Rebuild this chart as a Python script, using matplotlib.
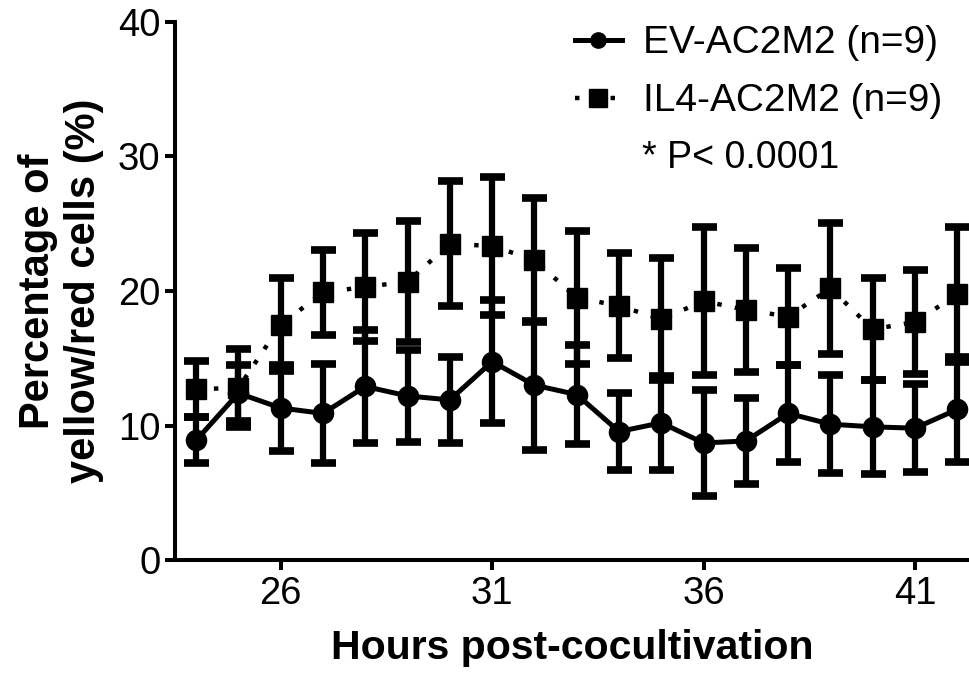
import matplotlib
matplotlib.use("Agg")
import matplotlib.pyplot as plt

plt.rcParams["font.family"] = ["Liberation Sans", "DejaVu Sans"]

# Time points (hours after co-cultivation start)
hours = [24, 25, 26, 27, 28, 29, 30, 31, 32, 33, 34, 35, 36, 37, 38, 39, 40, 41, 42]

# EV-AC2M2: mean and SEM of yellow/red cell percentage
ev_mean = [8.9, 12.4, 11.3, 10.9, 12.9, 12.2, 11.9, 14.75, 13.0, 12.3,
           9.55, 10.2, 8.7, 8.85, 10.9, 10.1, 9.9, 9.8, 11.2]
ev_sem = [1.7, 2.1, 3.2, 3.7, 4.2, 3.4, 3.2, 4.6, 4.8, 3.7,
          2.85, 3.5, 3.95, 3.2, 3.6, 3.65, 3.5, 3.25, 3.9]

# IL4-AC2M2: mean and SEM
il4_mean = [12.7, 12.8, 17.5, 19.9, 20.3, 20.7, 23.5, 23.35, 22.3, 19.5,
            18.9, 17.9, 19.25, 18.6, 18.1, 20.2, 17.15, 17.7, 19.75]
il4_sem = [2.1, 2.9, 3.45, 3.15, 4.0, 4.5, 4.65, 5.15, 4.6, 4.95,
           3.9, 4.55, 5.5, 4.6, 3.6, 4.85, 3.8, 3.85, 5.0]

x_ticks = [26, 31, 36, 41]
y_ticks = [0, 10, 20, 30, 40]

ev_label = "EV-AC2M2 (n=9)"
il4_label = "IL4-AC2M2 (n=9)"
p_text = "* P< 0.0001"

fig = plt.figure(figsize=(9.7, 6.77), dpi=100)
ax = fig.add_axes([175 / 970, 117 / 677, 795 / 970, 538 / 677])

err_kw = dict(fmt="none", ecolor="black", elinewidth=4.5, capsize=9,
              capthick=5.5, clip_on=False)
ax.errorbar(hours, il4_mean, yerr=il4_sem, **err_kw)
ax.errorbar(hours, ev_mean, yerr=ev_sem, **err_kw)

ax.plot(hours, il4_mean, color="black", linestyle=(0, (1, 3)), linewidth=3.2,
        marker="s", markersize=14, label=il4_label, clip_on=False, zorder=3)
ax.plot(hours, ev_mean, color="black", linestyle="-", linewidth=3.6,
        marker="o", markersize=14.5, label=ev_label, clip_on=False, zorder=3)

ax.set_xlim(23.5, 42.3)
ax.set_ylim(0, 40)
ax.set_xticks(x_ticks)
ax.set_yticks(y_ticks)

for side in ("top", "right"):
    ax.spines[side].set_visible(False)
for side in ("left", "bottom"):
    ax.spines[side].set_linewidth(2.9)

ax.tick_params(axis="both", which="major", direction="out", length=7.5,
               width=2.9, labelsize=27.5, color="black", labelcolor="black")
ax.tick_params(axis="x", pad=4)
ax.tick_params(axis="y", pad=3)

ax.set_xlabel("Hours post-cocultivation", fontsize=29.5, fontweight="bold",
              labelpad=12)
ax.set_ylabel("Percentage of\nyellow/red cells (%)", fontsize=30,
              fontweight="bold", linespacing=1.2, labelpad=10)

handles, labels = ax.get_legend_handles_labels()
order = [1, 0]
leg = ax.legend([handles[i] for i in order], [labels[i] for i in order],
                loc="upper left", bbox_to_anchor=(400 / 795, 0.994),
                frameon=False, fontsize=28, handlelength=1.2,
                handletextpad=0.55, labelspacing=0.57, borderaxespad=0,
                borderpad=0)
leg.legend_handles[0].set_markersize(11)
leg.legend_handles[1].set_markersize(13)

ax.text(642 / 970, 1 - 158 / 677, p_text, transform=fig.transFigure,
        fontsize=27, ha="left", va="center")

fig.savefig("out.png", dpi=100)
